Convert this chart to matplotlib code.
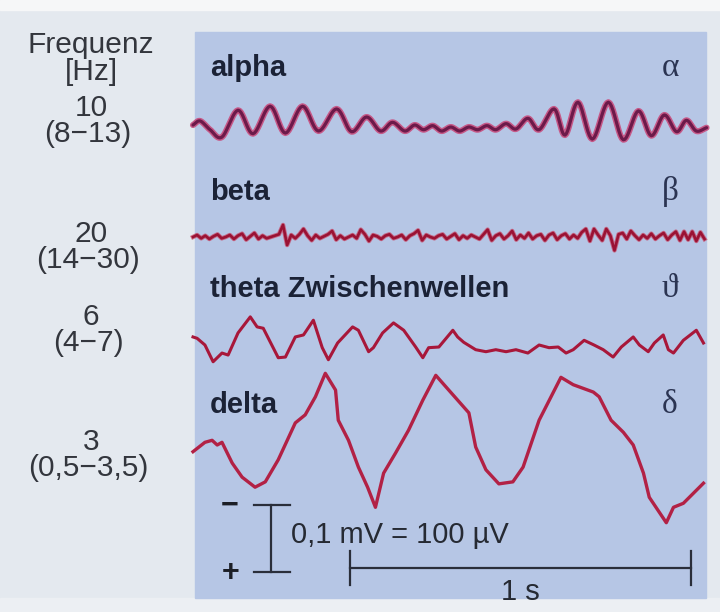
import numpy as np
import matplotlib.pyplot as plt
from matplotlib.patches import Rectangle

# EEG traces: time in ms from the start of the strip, amplitude in µV
alpha_t = [0, 21, 50, 85, 132, 176, 226, 271, 321, 368, 421, 465, 509, 550, 585,
           621, 650, 676, 703, 729, 756, 782, 809, 835, 862, 888, 918, 947, 982,
           1015, 1059, 1091, 1129, 1171, 1218, 1262, 1306, 1344, 1382, 1418, 1447,
           1476, 1506]
alpha_uv = [-3, 3, -10, -21, 19, -16, 25, -15, 25, -12, 21, -13, 9, -12, 1,
            -12, -3, -10, -4, -12, -6, -12, -6, -10, -4, -10, -1, -9, 7,
            -10, 21, -18, 31, -24, 31, -25, 18, -19, 12, -13, 4,
            -12, -7]

beta_dt = 12
beta_uv = [0, 3, -2, 2, -3, 1, 4, -2, 0, 3,
           -3, 2, 5, -4, 1, 6, -3, 2, -2, 0,
           2, 4, 18, -12, 3, -2, 4, 12, 2, -5,
           3, -2, 1, 4, 9, -4, 2, -3, 0, 3,
           -2, 11, 4, -6, 3, 1, -3, 2, 4, -2,
           0, 3, -4, 2, 5, 10, -5, 3, 0, -2,
           2, 4, -3, 1, 5, -4, 2, -2, 3, 0,
           -3, 4, 11, -5, 2, 5, -3, 2, 9, -4,
           3, -2, 6, -3, 2, 4, -5, 3, 6, -4,
           2, 5, -3, 3, -2, 7, 12, -6, 12, 3,
           -5, 12, 2, -20, 4, 6, -3, 9, 2, -4,
           3, -2, 5, -3, 2, 6, -4, 3, 8, -5,
           8, -4, 8, -6, 7, -3]

theta_t = [0, 12, 35, 59, 85, 103, 132, 168, 188, 206, 250, 271, 300, 324, 353,
           365, 379, 397, 424, 468, 485, 515, 529, 556, 588, 618, 653, 674, 691,
           721, 762, 776, 794, 829, 859, 888, 918, 947, 982, 1015, 1044, 1071,
           1094, 1115, 1147, 1176, 1203, 1232, 1256, 1291, 1309, 1335, 1353, 1379,
           1394, 1409, 1438, 1476, 1497]
theta_uv = [12, 10, 0, -25, -12, -15, 18, 42, 27, 25, -19, -18, 12, 15, 37,
            18, -4, -22, 3, 27, 22, -10, -4, 18, 33, 22, -3, -19, -4,
            -3, 22, 12, 4, -7, -10, -7, -10, -7, -12, 0, -4, -3,
            -12, -7, 7, 0, -7, -18, -3, 12, 0, -10, 3, 15,
            -7, -12, 7, 22, 3]

delta_t = [0, 35, 56, 71, 85, 115, 144, 182, 212, 250, 300, 329, 359, 388, 418,
           426, 456, 485, 512, 535, 559, 594, 632, 674, 712, 750, 809, 829, 859,
           897, 938, 968, 1015, 1056, 1079, 1115, 1174, 1191, 1226, 1262, 1291,
           1321, 1338, 1388, 1409, 1438, 1497]
delta_uv = [-10, 4, 7, 0, 4, -27, -48, -63, -55, -22, 33, 45, 72, 107, 82,
            37, 7, -33, -63, -93, -42, -12, 22, 67, 104, 82, 48, -3, -37,
            -58, -55, -33, 37, 78, 101, 90, 79, 72, 37, 19, 0,
            -42, -78, -116, -93, -87, -57]

names = ["alpha", "beta", "theta Zwischenwellen", "delta"]
greek = ["α", "β", "ϑ", "δ"]
freq = ["10", "20", "6", "3"]
freq_range = ["(8−13)", "(14−30)", "(4−7)", "(0,5−3,5)"]

# page layout in pixels, converted to ms / µV below
W, H = 720, 612
PX_PER_MS = 0.341
PX_PER_UV = 0.67
X0 = 193
baselines = [123, 237, 345, 445]


def ms(x):
    return (x - X0) / PX_PER_MS


def uv(y):
    return -y / PX_PER_UV


def catmull_rom(t, v, steps=10):
    P = np.column_stack([np.asarray(t, float), np.asarray(v, float)])
    P = np.vstack([2 * P[0] - P[1], P, 2 * P[-1] - P[-2]])
    s = np.linspace(0, 1, steps, endpoint=False)[:, None]
    out = []
    for i in range(1, len(P) - 2):
        p0, p1, p2, p3 = P[i - 1], P[i], P[i + 1], P[i + 2]
        out.append(0.5 * (2 * p1 + (-p0 + p2) * s
                          + (2 * p0 - 5 * p1 + 4 * p2 - p3) * s ** 2
                          + (-p0 + 3 * p1 - 3 * p2 + p3) * s ** 3))
    out.append(P[-2][None, :])
    return np.vstack(out)


fig = plt.figure(figsize=(7.2, 6.12), dpi=100)
fig.patch.set_facecolor("#e4e9ef")
ax = fig.add_axes([0, 0, 1, 1])
ax.set_xlim(ms(0), ms(W))
ax.set_ylim(uv(H), uv(0))
ax.axis("off")

# page background and the blue panel
ax.add_patch(Rectangle((ms(0), uv(10)), ms(W) - ms(0), uv(0) - uv(10),
                       color="#f6f7f8", zorder=0))
ax.add_patch(Rectangle((ms(0), uv(H)), ms(W) - ms(0), uv(598) - uv(H),
                       color="#eceff3", zorder=0))
ax.add_patch(Rectangle((ms(195), uv(598)), ms(706) - ms(195), uv(32) - uv(598),
                       color="#b6c6e5", zorder=1))

# traces
a = catmull_rom(alpha_t, alpha_uv)
ax.plot(a[:, 0], a[:, 1] + uv(baselines[0]), color="#c65887", lw=4.4,
        solid_capstyle="round", zorder=3)
ax.plot(a[:, 0], a[:, 1] + uv(baselines[0]), color="#6c1a4a", lw=2.3,
        solid_capstyle="round", zorder=4)

bt = np.arange(len(beta_uv)) * beta_dt
ax.plot(bt, np.array(beta_uv) + uv(baselines[1]), color="#c8405e", lw=3.2,
        alpha=0.7, zorder=3)
ax.plot(bt, np.array(beta_uv) + uv(baselines[1]), color="#9a1234", lw=1.9,
        zorder=4)

ax.plot(theta_t, np.array(theta_uv) + uv(baselines[2]), color="#a8173a",
        lw=2.2, zorder=3)
ax.plot(delta_t, np.array(delta_uv) + uv(baselines[3]), color="#b22145",
        lw=2.4, zorder=3)

# labels
sans = "Liberation Sans"
serif = ["Liberation Serif", "DejaVu Serif"]
left_col = "#33363d"
ax.text(ms(91), uv(53), "Frequenz", ha="center", va="baseline",
        fontsize=21.5, family=sans, color=left_col)
ax.text(ms(91), uv(80), "[Hz]", ha="center", va="baseline",
        fontsize=21.5, family=sans, color=left_col)

freq_base = [116, 242, 325, 450]
name_base = [76, 200, 297, 413]
for i in range(4):
    ax.text(ms(91), uv(freq_base[i]), freq[i], ha="center", va="baseline",
            fontsize=21.5, family=sans, color=left_col)
    ax.text(ms(88), uv(freq_base[i] + 26), freq_range[i], ha="center",
            va="baseline", fontsize=21.5, family=sans, color=left_col)
    ax.text(ms(210), uv(name_base[i]), names[i], ha="left", va="baseline",
            fontsize=21, fontweight="bold", family=sans, color="#1b2236")
    ax.text(ms(670), uv(name_base[i]), greek[i], ha="center", va="baseline",
            fontsize=24, family=serif, color="#2b3452")

# calibration: 100 µV and 1 s
bar_col = "#2a2e3a"
v_top = uv(505)
ax.plot([ms(271), ms(271)], [v_top, v_top - 100], color=bar_col, lw=1.6, zorder=5)
for v in (v_top, v_top - 100):
    ax.plot([ms(254), ms(290)], [v, v], color=bar_col, lw=1.6, zorder=5)
ax.text(ms(230), uv(506), "−", ha="center", va="center", fontsize=22,
        fontweight="bold", family=sans, color="#1b1e26")
ax.text(ms(231), uv(573), "+", ha="center", va="center", fontsize=22,
        fontweight="bold", family=sans, color="#1b1e26")
ax.text(ms(291), uv(543), "0,1 mV = 100 µV", ha="left", va="baseline",
        fontsize=21, family=sans, color="#262a33")

t0 = ms(350)
y_s = uv(568)
ax.plot([t0, t0 + 1000], [y_s, y_s], color=bar_col, lw=1.6, zorder=5)
for t in (t0, t0 + 1000):
    ax.plot([t, t], [uv(551), uv(585)], color=bar_col, lw=1.6, zorder=5)
ax.text(t0 + 500, uv(600), "1 s", ha="center", va="baseline",
        fontsize=21, family=sans, color="#262a33")

fig.savefig("out.png", dpi=100, facecolor=fig.get_facecolor())
